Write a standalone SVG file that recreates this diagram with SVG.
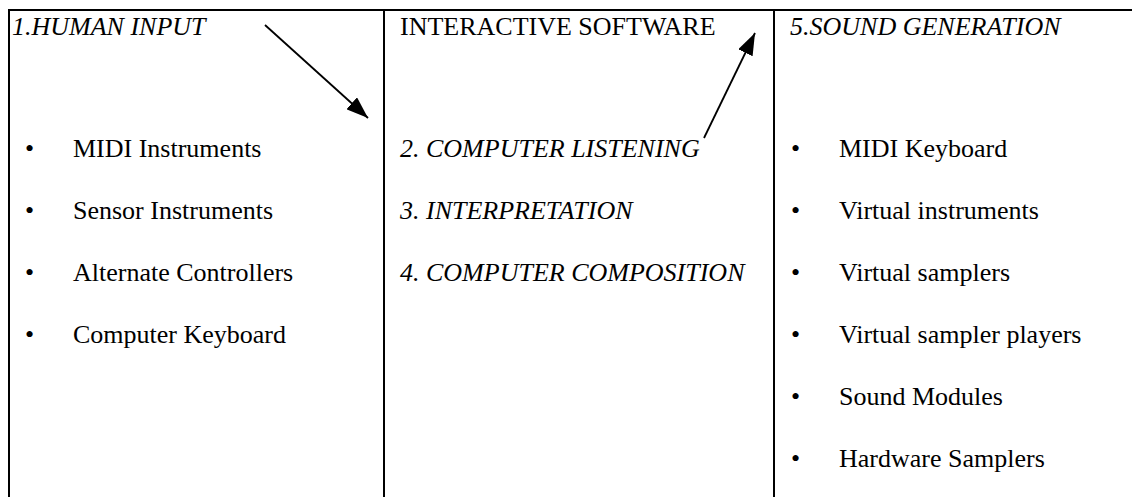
<svg xmlns="http://www.w3.org/2000/svg" width="1132" height="497" viewBox="0 0 1132 497">
<style>
.t{font-family:"Liberation Serif","Times New Roman",serif;font-size:26px;fill:#000}
.i{font-style:italic}
.b{stroke:#000;stroke-width:2;fill:none}
.c{stroke:#000;stroke-width:1.8;fill:none}
</style>
<defs>
<marker id="ah2" viewBox="0 0 22 16" refX="22" refY="8" markerWidth="22" markerHeight="16" orient="auto" markerUnits="userSpaceOnUse">
<path d="M0,0 L22,8 L0,16 Z" fill="#000"/>
</marker>
</defs>
<rect width="1132" height="497" fill="#fff"/>
<g id="table">
<line class="b" x1="8" y1="10" x2="1132" y2="10"/>
<line class="b" x1="9" y1="10" x2="9" y2="497"/>
<line class="b" x1="384" y1="10" x2="384" y2="497"/>
<line class="b" x1="774" y1="10" x2="774" y2="497"/>
</g>
<g id="human-input">
<text class="t i" x="12" y="35">1.HUMAN INPUT</text>
<text class="t" x="25" y="157">•</text><text class="t" x="73" y="157">MIDI Instruments</text>
<text class="t" x="25" y="219">•</text><text class="t" x="73" y="219">Sensor Instruments</text>
<text class="t" x="25" y="281">•</text><text class="t" x="73" y="281">Alternate Controllers</text>
<text class="t" x="25" y="343">•</text><text class="t" x="73" y="343">Computer Keyboard</text>
</g>
<g id="interactive-software">
<text class="t" x="400" y="35">INTERACTIVE SOFTWARE</text>
<text class="t i" x="400" y="157">2. COMPUTER LISTENING</text>
<text class="t i" x="400" y="219">3. INTERPRETATION</text>
<text class="t i" x="400" y="281">4. COMPUTER COMPOSITION</text>
</g>
<g id="sound-generation">
<text class="t i" x="790" y="35">5.SOUND GENERATION</text>
<text class="t" x="791" y="157">•</text><text class="t" x="839" y="157">MIDI Keyboard</text>
<text class="t" x="791" y="219">•</text><text class="t" x="839" y="219">Virtual instruments</text>
<text class="t" x="791" y="281">•</text><text class="t" x="839" y="281">Virtual samplers</text>
<text class="t" x="791" y="343">•</text><text class="t" x="839" y="343">Virtual sampler players</text>
<text class="t" x="791" y="405">•</text><text class="t" x="839" y="405">Sound Modules</text>
<text class="t" x="791" y="467">•</text><text class="t" x="839" y="467">Hardware Samplers</text>
</g>
<g id="connectors">
<line class="c" x1="265" y1="25" x2="368" y2="118" marker-end="url(#ah2)"/>
<line class="c" x1="704" y1="138" x2="755" y2="33" marker-end="url(#ah2)"/>
</g>
</svg>
